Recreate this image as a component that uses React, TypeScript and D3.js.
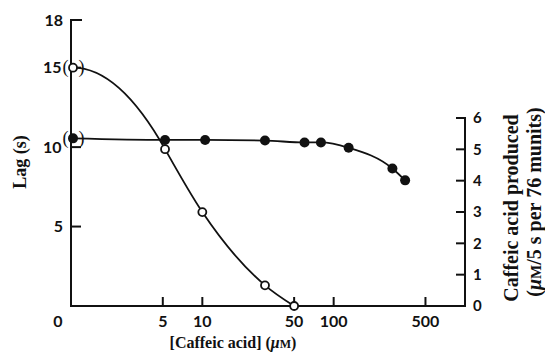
import React from "react";
import * as d3 from "d3";

// ---- data ----
const xTickValues = [0, 5, 10, 50, 100, 500];
const lagTicks = [5, 10, 15, 18];
const prodTicks = [0, 1, 2, 3, 4, 5, 6];

// open circles: lag (s), left axis
const lagConc = [0, 5.2, 10, 30, 50];
const lagValues = [15, 9.87, 5.91, 1.3, 0];

// filled circles: caffeic acid produced, right axis
const prodConc = [0, 5.2, 10.5, 30, 60, 80, 130, 280, 350];
const prodValues = [5.35, 5.3, 5.3, 5.28, 5.22, 5.22, 5.05, 4.39, 4.01];

const W = 545;
const H = 357;
const left = 71;
const right = 465;
const bottom = 306;

const x = d3.scaleLog().domain([1, 1000]).range([left, right]);
const xPos = (c: number) => (c === 0 ? x(1) + 2 : x(c));
const yL = d3.scaleLinear().domain([0, 18]).range([bottom, 20]);
const yR = d3.scaleLinear().domain([0, 6]).range([bottom, 118]);

type P = [number, number];

function sign(v: number) {
  return v < 0 ? -1 : 1;
}

// cubic Hermite through scaled points, monotone interior tangents
function hermite(pts: P[], flatStart: boolean): string {
  const n = pts.length;
  const m: number[] = new Array(n).fill(0);
  const s: number[] = [];
  for (let i = 0; i < n - 1; i++) {
    s.push((pts[i + 1][1] - pts[i][1]) / (pts[i + 1][0] - pts[i][0]));
  }
  for (let i = 1; i < n - 1; i++) {
    const h0 = pts[i][0] - pts[i - 1][0];
    const h1 = pts[i + 1][0] - pts[i][0];
    const s0 = s[i - 1];
    const s1 = s[i];
    const p = (s0 * h1 + s1 * h0) / (h0 + h1);
    m[i] = (sign(s0) + sign(s1)) * Math.min(Math.abs(s0), Math.abs(s1), 0.5 * Math.abs(p)) || 0;
  }
  if (flatStart) {
    // first span drawn as a parabola leaving the axis horizontally
    m[0] = 0;
    m[1] = 2 * s[0];
  } else {
    m[0] = (3 * s[0] - m[1]) / 2;
  }
  m[n - 1] = (3 * s[n - 2] - m[n - 2]) / 2;
  const path = d3.path();
  path.moveTo(pts[0][0], pts[0][1]);
  for (let i = 0; i < n - 1; i++) {
    const dx = (pts[i + 1][0] - pts[i][0]) / 3;
    path.bezierCurveTo(
      pts[i][0] + dx,
      pts[i][1] + m[i] * dx,
      pts[i + 1][0] - dx,
      pts[i + 1][1] - m[i + 1] * dx,
      pts[i + 1][0],
      pts[i + 1][1]
    );
  }
  return path.toString();
}

const lagPts: P[] = lagConc.map((c, i) => [xPos(c), yL(lagValues[i])]);
const prodPts: P[] = prodConc.map((c, i) => [xPos(c), yR(prodValues[i])]);

const tickFont = "Lato, 'Open Sans', sans-serif";
const serif = "'Liberation Serif', 'DejaVu Serif', serif";

export default function App() {
  const ink = "#111";
  return (
    <svg
      width={W}
      height={H}
      viewBox={`0 0 ${W} ${H}`}
      style={{ position: "absolute", left: 0, top: 0, background: "#fff" }}
    >
      <rect x={0} y={0} width={W} height={H} fill="#fff" />
      {/* axes */}
      <g stroke={ink} strokeWidth={2} fill="none">
        <path d={`M${left + 11},${yL(18)} H${left} V${bottom} H${right} V${yR(6)} H${right - 9}`} />
        {lagTicks
          .filter((t) => t !== 18)
          .map((t) => (
            <line key={"l" + t} x1={left} x2={left + 10} y1={yL(t)} y2={yL(t)} />
          ))}
        {xTickValues
          .filter((t) => t !== 0)
          .map((t) => (
            <line key={"x" + t} x1={x(t)} x2={x(t)} y1={bottom} y2={bottom - 9} />
          ))}
        {prodTicks
          .filter((t) => t !== 0 && t !== 6)
          .map((t) => (
            <line key={"r" + t} x1={right} x2={right - 9} y1={yR(t)} y2={yR(t)} />
          ))}
      </g>

      {/* tick labels */}
      <g fontFamily={tickFont} fontWeight="bold" fontSize={16} fill={ink}>
        {lagTicks.map((t) => (
          <text key={"lt" + t} x={t === 10 || t === 15 ? 61.5 : 63} y={yL(t)} dy="0.36em" textAnchor="end">
            {t}
          </text>
        ))}
        {xTickValues.map((t) => (
          <text
            key={"xt" + t}
            x={t === 0 ? x(1) - 13 : x(t)}
            y={327}
            textAnchor="middle"
          >
            {t}
          </text>
        ))}
        {prodTicks.map((t) => (
          <text key={"rt" + t} x={473} y={yR(t)} dy="0.36em" fontSize={15}>
            {t}
          </text>
        ))}
      </g>

      {/* curves */}
      <path d={hermite(lagPts, true)} fill="none" stroke={ink} strokeWidth={1.8} />
      <path d={hermite(prodPts, false)} fill="none" stroke={ink} strokeWidth={1.8} />

      {/* points */}
      {lagPts.map((p, i) => (
        <circle key={"o" + i} cx={p[0]} cy={p[1]} r={4} fill="#fff" stroke={ink} strokeWidth={1.8} />
      ))}
      {prodPts.map((p, i) => (
        <circle key={"f" + i} cx={p[0]} cy={p[1]} r={5} fill={ink} />
      ))}

      {/* parentheses around points on the axis */}
      <g fontFamily={serif} fontSize={18} fill={ink} textAnchor="middle">
        {[lagPts[0], prodPts[0]].map((p, i) => (
          <g key={"par" + i}>
            <text x={p[0] - 7.5} y={p[1]} dy="0.3em">(</text>
            <text x={p[0] + 8.5} y={p[1]} dy="0.3em">)</text>
          </g>
        ))}
      </g>

      {/* axis titles */}
      <text
        transform={`translate(26,162) rotate(-90)`}
        textAnchor="middle"
        fontFamily={serif}
        fontWeight="bold"
        fontSize={18}
        fill={ink}
      >
        Lag (s)
      </text>
      <text
        x={233}
        y={348}
        textAnchor="middle"
        fontFamily={serif}
        fontWeight="bold"
        fontSize={16}
        fill={ink}
      >
        [Caffeic acid] (<tspan fontStyle="italic">μ</tspan>
        <tspan fontSize={12}>M</tspan>)
      </text>
      <g fontFamily={serif} fontWeight="bold" fontSize={20} fill={ink} textAnchor="middle">
        <text transform={`translate(518,208) rotate(-90)`}>Caffeic acid produced</text>
        <text transform={`translate(541,202) rotate(-90)`}>
          (<tspan fontStyle="italic">μ</tspan>
          <tspan fontSize={15}>M</tspan>/5 s per 76 munits)
        </text>
      </g>
    </svg>
  );
}
